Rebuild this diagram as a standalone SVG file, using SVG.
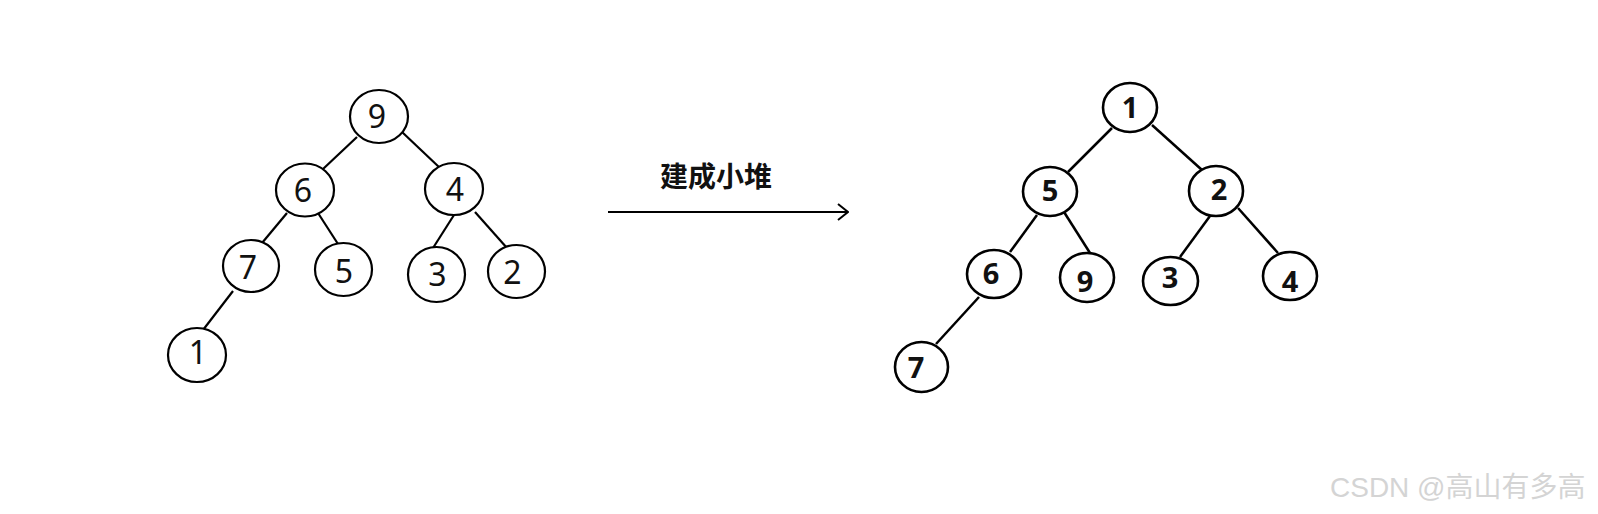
<svg xmlns="http://www.w3.org/2000/svg" width="1598" height="514" viewBox="0 0 1598 514">
<defs>
<style>
.n{fill:#fff;stroke:#000;stroke-width:2.2}
.e{stroke:#000;stroke-width:2.2;fill:none}
.n2{fill:#fff;stroke:#000;stroke-width:2.6}
.e2{stroke:#000;stroke-width:2.5;fill:none}
.t{font-family:"Noto Sans","Open Sans",sans-serif;font-size:32px;text-anchor:middle;fill:#111}
.b{font-family:"Noto Sans","Open Sans",sans-serif;font-size:29px;font-weight:bold;text-anchor:middle;fill:#111}
.lab{font-family:"Noto Sans CJK SC",sans-serif;font-size:28px;font-weight:bold;text-anchor:middle;fill:#111}
.wm{font-family:"Liberation Sans","Noto Sans CJK SC",sans-serif;font-size:28px;fill:#d4d4d4}
</style>
<marker id="arr" viewBox="0 0 12 18" refX="11" refY="9" markerWidth="12" markerHeight="18" markerUnits="userSpaceOnUse" orient="auto">
<path d="M1,1 L11,9 L1,17" fill="none" stroke="#000" stroke-width="2"/>
</marker>
</defs>
<rect width="1598" height="514" fill="#fff"/>
<g id="connectors">
<line class="e" x1="357" y1="137" x2="323" y2="169"/>
<line class="e" x1="402" y1="132" x2="440" y2="168"/>
<line class="e" x1="287" y1="213" x2="262" y2="243"/>
<line class="e" x1="318" y1="213" x2="338" y2="244"/>
<line class="e" x1="454" y1="215" x2="433" y2="248"/>
<line class="e" x1="475" y1="212" x2="507" y2="248"/>
<line class="e" x1="233" y1="291" x2="203" y2="330"/>
<line class="e2" x1="1112" y1="128" x2="1068" y2="172"/>
<line class="e2" x1="1152" y1="125" x2="1202" y2="170"/>
<line class="e2" x1="1037" y1="215" x2="1010" y2="252"/>
<line class="e2" x1="1064" y1="212" x2="1090" y2="253"/>
<line class="e2" x1="1210" y1="216" x2="1180" y2="257"/>
<line class="e2" x1="1238" y1="208" x2="1278" y2="253"/>
<line class="e2" x1="979" y1="297" x2="936" y2="344"/>
<line class="e" x1="608" y1="212" x2="848" y2="212" marker-end="url(#arr)"/>
</g>
<text id="label" class="lab" x="716" y="187">建成小堆</text>
<g id="L9"><ellipse class="n" cx="379" cy="116.5" rx="29" ry="26.5"/><text class="t" x="377" y="128">9</text></g>
<g id="L6"><ellipse class="n" cx="305" cy="190" rx="29" ry="26.5"/><text class="t" x="303" y="202">6</text></g>
<g id="L4"><ellipse class="n" cx="454" cy="189" rx="29" ry="26"/><text class="t" x="455" y="201">4</text></g>
<g id="L7"><ellipse class="n" cx="251" cy="266" rx="28" ry="26"/><text class="t" x="248" y="279">7</text></g>
<g id="L5"><ellipse class="n" cx="343.5" cy="269.5" rx="28.5" ry="26.5"/><text class="t" x="344" y="283">5</text></g>
<g id="L3"><ellipse class="n" cx="436.5" cy="274.5" rx="28.5" ry="27.5"/><text class="t" x="437.5" y="285.5">3</text></g>
<g id="L2"><ellipse class="n" cx="516.5" cy="271.5" rx="28.5" ry="26.5"/><text class="t" x="512.5" y="284">2</text></g>
<g id="L1"><ellipse class="n" cx="197" cy="355" rx="29" ry="27"/><text class="t" x="198" y="364">1</text></g>
<g id="R1"><ellipse class="n2" cx="1130" cy="107.5" rx="27" ry="24.5"/><text class="b" x="1130" y="118">1</text></g>
<g id="R5"><ellipse class="n2" cx="1050" cy="191.5" rx="27" ry="24.5"/><text class="b" x="1050" y="201">5</text></g>
<g id="R2"><ellipse class="n2" cx="1216" cy="191" rx="27" ry="25"/><text class="b" x="1219" y="200">2</text></g>
<g id="R6"><ellipse class="n2" cx="994" cy="274" rx="27" ry="24"/><text class="b" x="991" y="284">6</text></g>
<g id="R9"><ellipse class="n2" cx="1087" cy="277.5" rx="27" ry="24.5"/><text class="b" x="1085" y="291.5">9</text></g>
<g id="R3"><ellipse class="n2" cx="1170.5" cy="281" rx="27.5" ry="24"/><text class="b" x="1170" y="287.5">3</text></g>
<g id="R4"><ellipse class="n2" cx="1290" cy="276" rx="27" ry="24"/><text class="b" x="1290" y="291.5">4</text></g>
<g id="R7"><ellipse class="n2" cx="921.5" cy="367" rx="26.5" ry="25"/><text class="b" x="916" y="377.5">7</text></g>
<text class="wm" x="1330" y="497">CSDN @高山有多高</text>
</svg>
